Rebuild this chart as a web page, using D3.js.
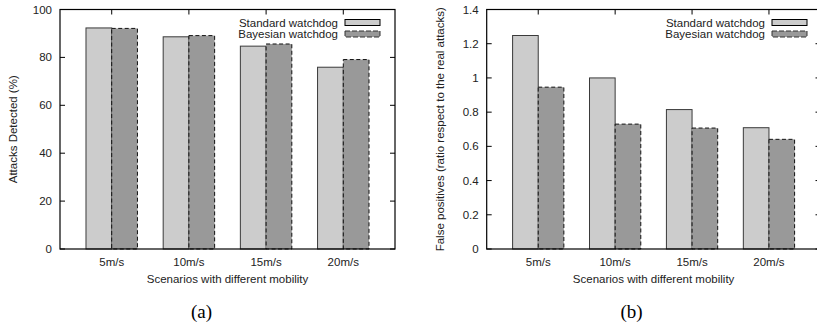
<!DOCTYPE html>
<html>
<head>
<meta charset="utf-8">
<title>Watchdog comparison</title>
<style>
  body { margin: 0; background: #fff; }
  svg { display: block; font-family: "Liberation Sans", Arial, sans-serif; }
  .tick-label { font-size: 11.5px; fill: #222; }
  .axis-title { font-size: 11.5px; fill: #222; }
  .caption { font-family: "Liberation Serif", "Times New Roman", serif; font-size: 19px; fill: #000; }
</style>
</head>
<body>
<div id="chart"></div>
<script src="https://cdn.jsdelivr.net/npm/d3@7"></script>
<script>
// categories shared by both panels
const scenarios = ["5m/s", "10m/s", "15m/s", "20m/s"]
const seriesNames = ["Standard watchdog", "Bayesian watchdog"]

// panel (a): attacks detected (%)
const detectedStandard = [92.3, 88.6, 84.7, 75.9]
const detectedBayesian = [92.1, 89.1, 85.6, 79.1]
const detectedTicks = [0, 20, 40, 60, 80, 100]

// panel (b): false positives ratio
const falseStandard = [1.248, 1.0, 0.815, 0.709]
const falseBayesian = [0.946, 0.73, 0.707, 0.641]
const falseTicks = [0, 0.2, 0.4, 0.6, 0.8, 1, 1.2, 1.4]

const W = 817, H = 325
const svg = d3.select("#chart").append("svg")
    .attr("width", W)
    .attr("height", H)

function panel(opts) {
    const { left, right, top, bottom, yMax, ticks, std, bay, yTitle, yTitleX, caption, captionX, tickFmt } = opts
    const g = svg.append("g")

    // gnuplot-ish x range: category centres at 0..3, extra room either side
    const x = d3.scaleLinear().domain([-0.67, 3.67]).range([left, right])
    const y = d3.scaleLinear().domain([0, yMax]).range([bottom, top])
    const unit = x(1) - x(0)
    const barW = unit / 3
    const tickLen = 5

    // y ticks, inward on both sides
    ticks.forEach(t => {
        g.append("line")
            .attr("x1", left).attr("x2", left + tickLen)
            .attr("y1", y(t)).attr("y2", y(t))
            .attr("stroke", "#000")
        g.append("line")
            .attr("x1", right).attr("x2", right - tickLen)
            .attr("y1", y(t)).attr("y2", y(t))
            .attr("stroke", "#000")
        g.append("text")
            .attr("class", "tick-label")
            .attr("x", left - 8)
            .attr("y", y(t) + 4)
            .attr("text-anchor", "end")
            .text(tickFmt(t))
    })

    // x ticks, top and bottom
    scenarios.forEach((s, i) => {
        g.append("line")
            .attr("x1", x(i)).attr("x2", x(i))
            .attr("y1", top).attr("y2", top + tickLen)
            .attr("stroke", "#000")
        g.append("line")
            .attr("x1", x(i)).attr("x2", x(i))
            .attr("y1", bottom).attr("y2", bottom - tickLen)
            .attr("stroke", "#000")
        g.append("text")
            .attr("class", "tick-label")
            .attr("x", x(i))
            .attr("y", bottom + 17)
            .attr("text-anchor", "middle")
            .text(s)
    })

    // bars
    g.selectAll("rect.std")
        .data(std)
        .join("rect")
        .attr("class", "std")
        .attr("x", (d, i) => x(i) - barW)
        .attr("y", d => y(d))
        .attr("width", barW)
        .attr("height", d => y(0) - y(d))
        .attr("fill", "#cccccc")
        .attr("stroke", "#3a3a3a")
        .attr("stroke-width", 1)

    g.selectAll("rect.bay")
        .data(bay)
        .join("rect")
        .attr("class", "bay")
        .attr("x", (d, i) => x(i))
        .attr("y", d => y(d))
        .attr("width", barW)
        .attr("height", d => y(0) - y(d))
        .attr("fill", "#999999")
        .attr("stroke", "#111")
        .attr("stroke-width", 1)
        .attr("stroke-dasharray", "4,2.5")

    // frame
    g.append("rect")
        .attr("x", left).attr("y", top)
        .attr("width", right - left).attr("height", bottom - top)
        .attr("fill", "none")
        .attr("stroke", "#000")
        .attr("stroke-width", 1.2)

    // legend
    const legX = opts.legendX
    const swW = 35, swH = 6
    seriesNames.forEach((name, i) => {
        const cy = 22.5 + i * 11.5
        g.append("text")
            .attr("class", "tick-label")
            .attr("x", legX - 7)
            .attr("y", cy + 4)
            .attr("text-anchor", "end")
            .text(name)
        g.append("rect")
            .attr("x", legX).attr("y", cy - swH / 2)
            .attr("width", swW).attr("height", swH)
            .attr("fill", i === 0 ? "#cccccc" : "#999999")
            .attr("stroke", i === 0 ? "#000" : "#333")
            .attr("stroke-dasharray", i === 0 ? null : "5,2")
    })

    // axis titles
    g.append("text")
        .attr("class", "axis-title")
        .attr("x", (x(0) + x(3)) / 2)
        .attr("y", bottom + 34)
        .attr("text-anchor", "middle")
        .text("Scenarios with different mobility")

    g.append("text")
        .attr("class", "axis-title")
        .attr("transform", `translate(${yTitleX},${(top + bottom) / 2}) rotate(-90)`)
        .attr("text-anchor", "middle")
        .text(yTitle)

    g.append("text")
        .attr("class", "caption")
        .attr("x", captionX)
        .attr("y", 318)
        .attr("text-anchor", "middle")
        .text(caption)
}

panel({
    left: 60, right: 395, top: 9.5, bottom: 249,
    yMax: 100, ticks: detectedTicks, tickFmt: d => d,
    std: detectedStandard, bay: detectedBayesian,
    yTitle: "Attacks Detected (%)", yTitleX: 17,
    caption: "(a)", captionX: 201.5,
    legendX: 345
})

panel({
    left: 486.7, right: 820.5, top: 9.5, bottom: 249,
    yMax: 1.4, ticks: falseTicks, tickFmt: d => d,
    std: falseStandard, bay: falseBayesian,
    yTitle: "False positives (ratio respect to the real attacks)", yTitleX: 444,
    caption: "(b)", captionX: 631.5,
    legendX: 772
})
</script>
</body>
</html>
